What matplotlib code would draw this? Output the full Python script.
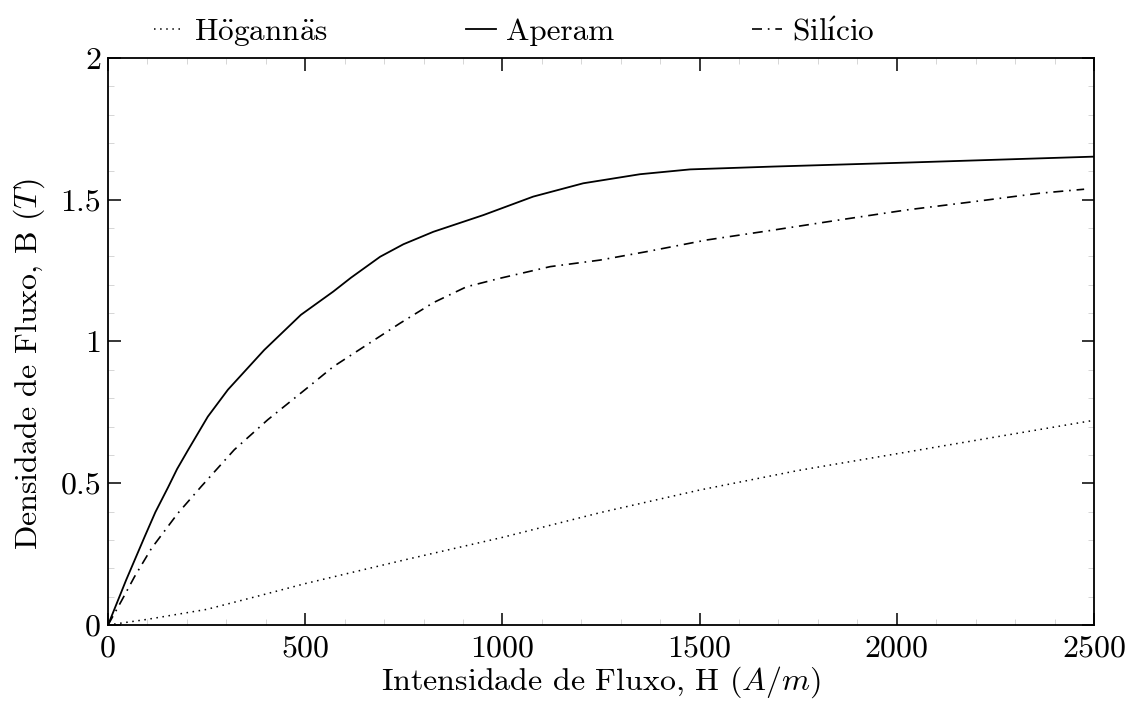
import matplotlib.pyplot as plt
from matplotlib.ticker import MultipleLocator, FuncFormatter

plt.rcParams['font.family'] = ['cmr10', 'DejaVu Serif']
plt.rcParams['mathtext.fontset'] = 'cm'
plt.rcParams['axes.formatter.use_mathtext'] = True

# curvas B-H (H em A/m, B em T)
h_hoganas = [0, 100, 250, 375, 500, 750, 1000, 1250, 1500, 1750, 2000, 2250, 2500]
b_hoganas = [0, 0.02, 0.055, 0.10, 0.146, 0.229, 0.309, 0.397, 0.476, 0.545, 0.604, 0.663, 0.722]

h_aperam = [0, 46, 93, 120, 152, 175, 202, 253, 304, 396, 489, 571, 616, 690, 749, 825, 952,
            1078, 1205, 1349, 1476, 1687, 2025, 2500]
b_aperam = [0, 0.159, 0.312, 0.398, 0.485, 0.55, 0.615, 0.735, 0.83, 0.97, 1.094, 1.176, 1.225,
            1.299, 1.343, 1.387, 1.446, 1.511, 1.558, 1.59, 1.607, 1.617, 1.631, 1.652]

h_silicio = [0, 34, 67, 110, 177, 236, 320, 405, 504, 571, 656, 740, 825, 909, 994,
             1121, 1247, 1366, 1518, 1687, 1856, 2025, 2194, 2363, 2475]
b_silicio = [0, 0.085, 0.17, 0.27, 0.394, 0.488, 0.618, 0.724, 0.835, 0.911, 0.988,
             1.064, 1.137, 1.193, 1.223, 1.264, 1.287, 1.317, 1.358, 1.393, 1.429, 1.464,
             1.493, 1.523, 1.537]

fig = plt.figure(figsize=(11.29, 7.07), dpi=100)
ax = fig.add_axes([0.0957, 0.116, 0.8733, 0.802])

ax.plot(h_hoganas, b_hoganas, color='black', lw=1.1, linestyle=(0, (1, 3)),
        label=r'H$\ddot{\mathrm{o}}$gann$\ddot{\mathrm{a}}$s')
ax.plot(h_aperam, b_aperam, color='black', lw=1.3, linestyle='-', label='Aperam')
ax.plot(h_silicio, b_silicio, color='black', lw=1.2, linestyle=(0, (6, 3.5, 1, 3.5)),
        label=r'Sil$\mathrm{\acute{ı}}$cio')

ax.set_xlim(0, 2500)
ax.set_ylim(0, 2)
ax.xaxis.set_major_locator(MultipleLocator(500))
ax.xaxis.set_minor_locator(MultipleLocator(100))
ax.yaxis.set_major_locator(MultipleLocator(0.5))
ax.yaxis.set_minor_locator(MultipleLocator(0.1))
ax.yaxis.set_major_formatter(FuncFormatter(lambda v, p: '%g' % v))
ax.xaxis.set_major_formatter(FuncFormatter(lambda v, p: '%g' % v))

ax.tick_params(which='major', direction='in', length=9, width=1.1, top=True, right=True,
               labelsize=23)
ax.tick_params(which='minor', direction='in', length=4, width=0.6, top=True, right=True,
               color='#d0d0d0')
ax.tick_params(axis='x', pad=7)
ax.tick_params(axis='y', pad=5)
for s in ax.spines.values():
    s.set_linewidth(1.3)

ax.set_xlabel(r'Intensidade de Fluxo, H ($A/m$)', fontsize=23, labelpad=2)
ax.set_ylabel(r'Densidade de Fluxo, B ($T$)', fontsize=23)
ax.yaxis.set_label_coords(-0.062, 0.46)

ax.legend(loc='lower center', bbox_to_anchor=(0.412, 0.995), ncol=3, frameon=False,
          fontsize=22.5, handlelength=0.96, handletextpad=0.32, columnspacing=4.4,
          borderaxespad=0)

fig.savefig('out.png', dpi=100)
